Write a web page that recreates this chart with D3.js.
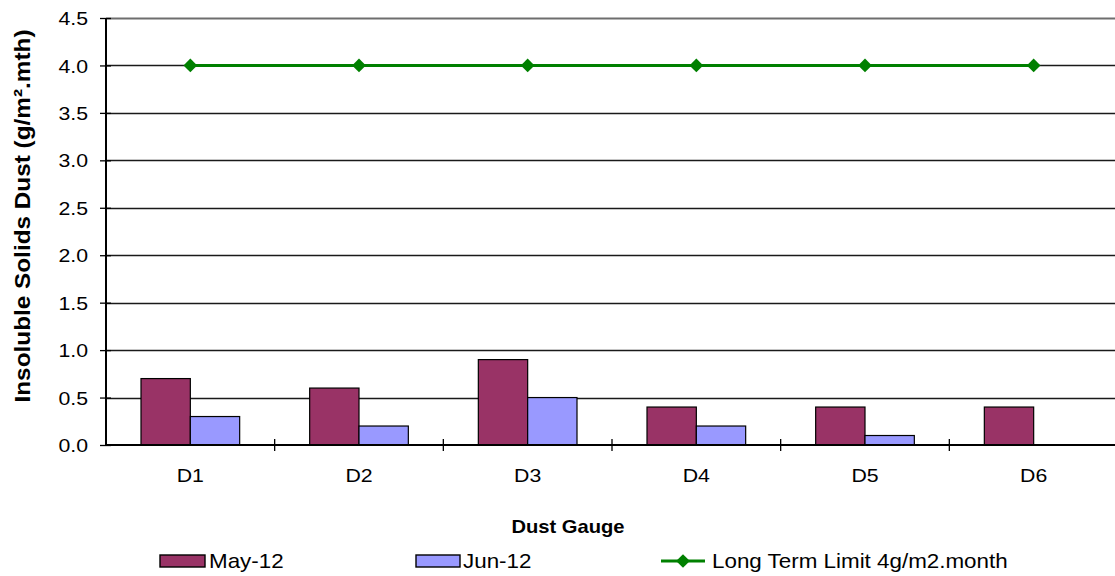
<!DOCTYPE html>
<html>
<head>
<meta charset="utf-8">
<script src="https://cdn.jsdelivr.net/npm/d3@7"></script>
<style>
  body { margin: 0; background: #fff; }
  text { font-family: "Liberation Sans", Arial, sans-serif; }
</style>
</head>
<body>
<svg width="1115" height="576"></svg>
<script>
// data
var gauges = ['D1', 'D2', 'D3', 'D4', 'D5', 'D6'];
var may12 = [0.7, 0.6, 0.9, 0.4, 0.4, 0.4];
var jun12 = [0.3, 0.2, 0.5, 0.2, 0.1, 0];
var limit = [4, 4, 4, 4, 4, 4];
var yTickValues = [0, 0.5, 1, 1.5, 2, 2.5, 3, 3.5, 4, 4.5];
var seriesNames = ['May-12', 'Jun-12', 'Long Term Limit 4g/m2.month'];

var svg = d3.select('svg');
var sx = 1.12; // the original chart is a little stretched sideways

// plot area
var margin = { top: 18, left: 106, right: -3, bottom: 131 };
var width = 1115 - margin.left - margin.right;
var height = 576 - margin.top - margin.bottom;

var g = svg.append('g').attr('transform', 'translate(' + margin.left + ',' + margin.top + ')');

var yScale = d3.scaleLinear().domain([0, 4.5]).range([height, 0]);
var xScale = d3.scaleBand().domain(gauges).range([0, width]);
var inner = d3.scaleBand().domain([0, 1]).range([35, xScale.bandwidth() - 35]);

// gridlines
g.selectAll('.grid')
  .data(yTickValues.slice(1))
  .enter().append('line')
  .attr('x1', 0).attr('x2', width)
  .attr('y1', function(d) { return Math.round(yScale(d)) + 0.5; })
  .attr('y2', function(d) { return Math.round(yScale(d)) + 0.5; })
  .attr('stroke', function(d) { return d === 4.5 ? '#6e6e6e' : '#1a1a1a'; })
  .attr('stroke-width', function(d) { return d === 4.5 ? 2 : 1.4; });

// bars
var series = [{ vals: may12, color: '#993366' }, { vals: jun12, color: '#9999ff' }];
series.forEach(function(s, k) {
  g.selectAll('.bar' + k)
    .data(gauges)
    .enter().append('rect')
    .filter(function(d, i) { return s.vals[i] > 0; })
    .attr('x', function(d) { return xScale(d) + inner(k); })
    .attr('y', function(d) { return yScale(s.vals[gauges.indexOf(d)]); })
    .attr('width', inner.bandwidth())
    .attr('height', function(d) { return height - yScale(s.vals[gauges.indexOf(d)]); })
    .attr('fill', s.color)
    .attr('stroke', '#000')
    .attr('stroke-width', 1.2);
});

// limit line
var line = d3.line()
  .x(function(d, i) { return xScale(gauges[i]) + xScale.bandwidth() / 2; })
  .y(function(d) { return yScale(d); });
g.append('path')
  .datum(limit)
  .attr('d', line)
  .attr('fill', 'none')
  .attr('stroke', '#008000')
  .attr('stroke-width', 3);

var diamond = d3.symbol().type(d3.symbolDiamond2).size(120);
g.selectAll('.mark')
  .data(limit)
  .enter().append('path')
  .attr('d', diamond)
  .attr('transform', function(d, i) {
    return 'translate(' + (xScale(gauges[i]) + xScale.bandwidth() / 2) + ',' + yScale(d) + ')';
  })
  .attr('fill', '#008000');

// y axis
var yAxis = g.append('g')
  .call(d3.axisLeft(yScale).tickValues(yTickValues).tickSize(6)
    .tickFormat(d3.format('.1f')));
yAxis.select('.domain').remove();
yAxis.selectAll('.tick line').attr('x2', 5).attr('x1', -6).attr('stroke', '#000').attr('stroke-width', 1.3);
yAxis.selectAll('.tick text')
  .attr('x', -18 / sx).attr('dy', '0.35em')
  .attr('transform', 'scale(' + sx + ',1)')
  .attr('font-size', 19).attr('fill', '#000')
  .style('font-family', '"Liberation Sans", Arial, sans-serif');
g.append('line')
  .attr('x1', 0).attr('x2', 0).attr('y1', 0).attr('y2', height)
  .attr('stroke', '#000').attr('stroke-width', 2);

// x axis
var xAxis = g.append('g')
  .attr('transform', 'translate(0,' + height + ')')
  .call(d3.axisBottom(xScale).tickSize(0));
xAxis.select('.domain').remove();
xAxis.selectAll('.tick text')
  .attr('y', 37).attr('dy', 0)
  .attr('transform', 'scale(' + sx + ',1)')
  .attr('font-size', 19).attr('fill', '#000')
  .style('font-family', '"Liberation Sans", Arial, sans-serif');
g.append('line')
  .attr('x1', 0).attr('x2', width).attr('y1', height).attr('y2', height)
  .attr('stroke', '#000').attr('stroke-width', 2);
g.selectAll('.xtick')
  .data(gauges.slice(1))
  .enter().append('line')
  .attr('x1', function(d) { return xScale(d); })
  .attr('x2', function(d) { return xScale(d); })
  .attr('y1', height - 6).attr('y2', height + 6)
  .attr('stroke', '#000').attr('stroke-width', 1.3);

// axis titles
svg.append('text')
  .attr('transform', 'translate(568,533) scale(' + sx + ',1)')
  .attr('text-anchor', 'middle')
  .attr('font-size', 18).attr('font-weight', 'bold')
  .text('Dust Gauge');

svg.append('text')
  .attr('transform', 'translate(30,216) rotate(-90)')
  .attr('text-anchor', 'middle')
  .attr('font-size', 22).attr('font-weight', 'bold')
  .attr('textLength', 373).attr('lengthAdjust', 'spacingAndGlyphs')
  .attr('x', 0)
  .text('Insoluble Solids Dust (g/m².mth)');

// legend
var swatchX = [160, 416];
var legend = svg.append('g').attr('transform', 'translate(0,561)');
legend.append('rect').attr('x', swatchX[0]).attr('y', -6).attr('width', 45).attr('height', 12)
  .attr('fill', '#993366').attr('stroke', '#000').attr('stroke-width', 1.4);
legend.append('rect').attr('x', swatchX[1]).attr('y', -6).attr('width', 44).attr('height', 12)
  .attr('fill', '#9999ff').attr('stroke', '#000').attr('stroke-width', 1.4);
legend.append('line').attr('x1', 661).attr('x2', 705).attr('y1', 0).attr('y2', 0)
  .attr('stroke', '#008000').attr('stroke-width', 3);
legend.append('path').attr('d', diamond).attr('transform', 'translate(683,0)')
  .attr('fill', '#008000');
var textX = [209, 463, 712];
legend.selectAll('.lt')
  .data(seriesNames)
  .enter().append('text')
  .attr('transform', function(d, i) { return 'translate(' + textX[i] + ',7) scale(' + sx + ',1)'; })
  .attr('font-size', 20)
  .text(function(d) { return d; });
</script>
</body>
</html>
